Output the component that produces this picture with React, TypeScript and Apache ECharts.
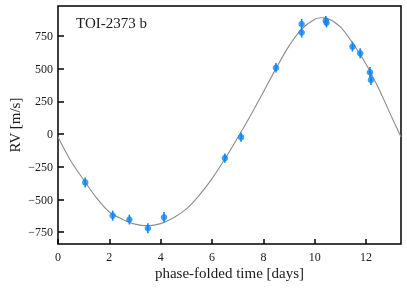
import React, { useEffect, useRef } from "react";
import * as echarts from "echarts";

const PERIOD = 13.36;
const planetName = "TOI-2373 b";

// observed RVs (phase-folded)
const obsTime = [1.06, 2.13, 2.78, 3.5, 4.13, 6.5, 7.13, 8.49, 9.49, 9.49, 10.43, 10.46, 11.47, 11.77, 12.15, 12.19];
const obsRV = [-369, -623, -653, -720, -636, -183, -23, 508, 842, 777, 868, 852, 669, 618, 473, 415];
const obsErr = [38, 38, 38, 38, 40, 36, 36, 36, 40, 38, 36, 36, 38, 38, 40, 40];

// model curve
const modelTime = [0, 0.5, 1, 1.5, 2, 2.5, 3, 3.5, 4, 4.5, 5, 5.5, 6, 6.5, 7, 7.5, 8, 8.5, 9, 9.5, 10, 10.25, 10.5, 11, 11.5, 12, 12.5, 13, 13.36];
const modelRV = [-22, -205, -350, -487, -595, -650, -688, -700, -684, -640, -572, -468, -340, -190, -28, 142, 322, 505, 675, 805, 878, 890, 885, 820, 690, 535, 345, 130, -22];

const xTicks = [0, 2, 4, 6, 8, 10, 12];
const yTicks = [-750, -500, -250, 0, 250, 500, 750];

const FONT = "'Liberation Serif', 'DejaVu Serif', serif";
const BLUE = "#0f86f2";
const TEXT = "#1a1a1a";

export default function App() {
  const ref = useRef<HTMLDivElement>(null);
  useEffect(() => {
    const chart = echarts.init(ref.current!, null, { renderer: "svg" });
    chart.setOption({
      animation: false,
      textStyle: { fontFamily: FONT },
      title: {
        text: planetName,
        left: 76,
        top: 15,
        padding: 0,
        textStyle: { fontFamily: FONT, fontSize: 15, fontWeight: "normal", color: TEXT },
      },
      grid: {
        left: 58,
        right: 6,
        top: 6,
        bottom: 44,
        containLabel: false,
        outerBoundsMode: "none",
        show: true,
        borderColor: "#000",
        borderWidth: 1.5,
        backgroundColor: "transparent",
      },
      xAxis: {
        type: "value",
        min: 0,
        max: PERIOD,
        name: "phase-folded time [days]",
        nameLocation: "middle",
        nameGap: 21,
        nameMoveOverlap: false,
        nameTextStyle: { fontFamily: FONT, fontSize: 15, color: TEXT },
        axisLine: { show: false, onZero: false },
        axisTick: { show: true, inside: true, length: 5, customValues: xTicks, lineStyle: { color: "#000", width: 1.5 } },
        axisLabel: { customValues: xTicks, fontFamily: FONT, fontSize: 12, color: TEXT, margin: 7 },
        splitLine: { show: false },
      },
      yAxis: {
        type: "value",
        min: -840,
        max: 980,
        name: "RV [m/s]",
        nameLocation: "middle",
        nameGap: 36,
        nameMoveOverlap: false,
        nameTextStyle: { fontFamily: FONT, fontSize: 15, color: TEXT },
        axisLine: { show: false, onZero: false },
        axisTick: { show: true, inside: true, length: 6, customValues: yTicks, lineStyle: { color: "#000", width: 1.5 } },
        axisLabel: {
          customValues: yTicks,
          fontFamily: FONT,
          fontSize: 12,
          color: TEXT,
          margin: 5,
          formatter: (v: number) => (v < 0 ? "\u2212" + Math.abs(v) : String(v)),
        },
        splitLine: { show: false },
      },
      series: [
        {
          type: "line",
          data: modelTime.map((t, i) => [t, modelRV[i]]),
          smooth: 0.3,
          showSymbol: false,
          lineStyle: { color: "#8c8c8c", width: 1.1 },
          z: 1,
        },
        {
          type: "custom",
          data: obsTime.map((t, i) => [t, obsRV[i], obsErr[i]]),
          encode: { x: 0, y: 1 },
          renderItem: (params: any, api: any) => {
            const x = api.value(0);
            const y = api.value(1);
            const e = api.value(2);
            const lo = api.coord([x, y - e]);
            const hi = api.coord([x, y + e]);
            return {
              type: "line",
              shape: { x1: lo[0], y1: lo[1], x2: hi[0], y2: hi[1] },
              style: { stroke: BLUE, lineWidth: 1.6 },
            };
          },
          z: 2,
        },
        {
          type: "scatter",
          data: obsTime.map((t, i) => [t, obsRV[i]]),
          symbol: "circle",
          symbolSize: 6.5,
          itemStyle: { color: BLUE },
          z: 3,
        },
      ],
    });
    return () => chart.dispose();
  }, []);
  return <div ref={ref} style={{ position: "fixed", left: 0, top: 0, width: 407, height: 288 }} />;
}
